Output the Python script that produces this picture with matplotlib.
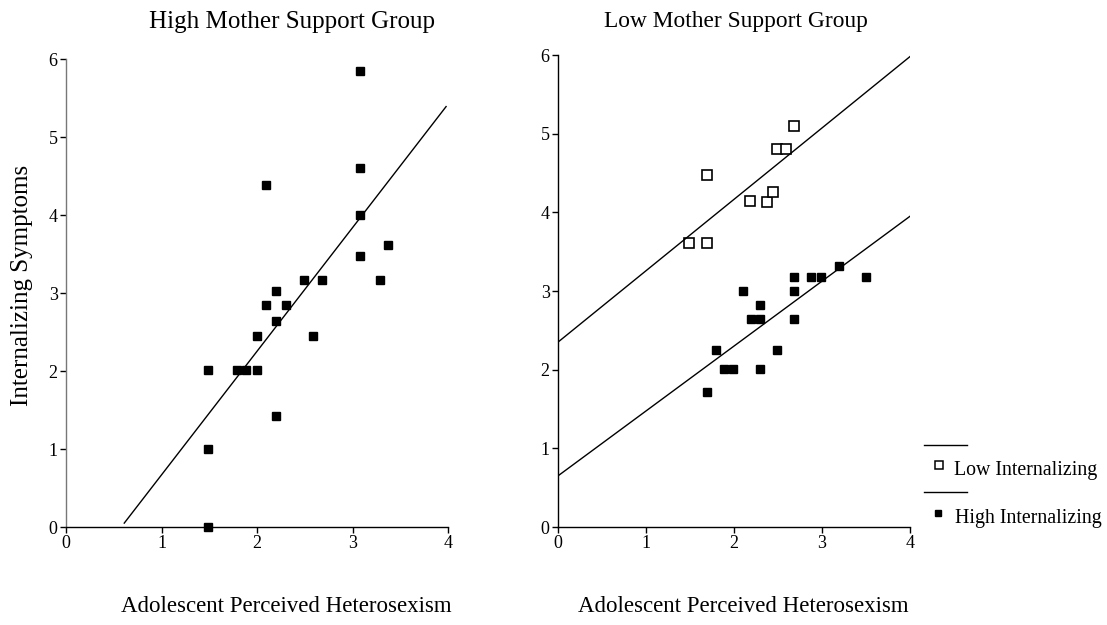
import matplotlib
matplotlib.use("Agg")
import matplotlib.pyplot as plt
from matplotlib.lines import Line2D

plt.rcParams['font.family'] = ['Liberation Serif', 'DejaVu Serif']

# ---- Data: High Mother Support Group ----
high_x = [3.08, 3.08, 3.08, 3.08, 3.37, 3.29, 2.68, 2.49, 2.59, 2.09, 2.20,
          2.09, 2.30, 2.20, 2.00, 2.00, 1.89, 1.79, 1.49, 2.20, 1.49, 1.49]
high_y = [5.84, 4.60, 4.00, 3.47, 3.61, 3.17, 3.17, 3.17, 2.45, 4.38, 3.02,
          2.84, 2.84, 2.64, 2.45, 2.01, 2.01, 2.01, 2.01, 1.42, 1.00, 0.00]
high_line_x = [0.61, 3.98]
high_line_y = [0.05, 5.39]

# ---- Data: Low Mother Support Group ----
low_int_x = [1.49, 1.69, 1.69, 2.18, 2.37, 2.44, 2.49, 2.59, 2.68]
low_int_y = [3.61, 3.61, 4.47, 4.14, 4.13, 4.26, 4.80, 4.80, 5.10]
high_int_x = [1.69, 1.80, 1.89, 1.99, 2.10, 2.19, 2.30, 2.30, 2.30, 2.49,
              2.68, 2.68, 2.68, 2.88, 2.99, 3.19, 3.50]
high_int_y = [1.72, 2.25, 2.01, 2.01, 3.00, 2.65, 2.65, 2.82, 2.01, 2.25,
              3.18, 3.00, 2.65, 3.18, 3.18, 3.32, 3.18]
low_line_x = [0.0, 4.0]
low_line_y = [2.35, 5.98]
hi_line_x = [0.0, 4.0]
hi_line_y = [0.65, 3.95]

xticks = [0, 1, 2, 3, 4]
yticks = [0, 1, 2, 3, 4, 5, 6]

W, H = 1107, 625
fig = plt.figure(figsize=(W / 100, H / 100), dpi=100)

def ax_at(x0, x1, ytop, ybot):
    return fig.add_axes([x0 / W, (H - ybot) / H, (x1 - x0) / W, (ybot - ytop) / H])

ax1 = ax_at(66, 448, 59, 527)
ax2 = ax_at(558, 910, 55, 527)

for ax in (ax1, ax2):
    ax.set_xlim(0, 4)
    ax.set_ylim(0, 6)
    ax.set_xticks(xticks)
    ax.set_yticks(yticks)
    ax.spines['top'].set_visible(False)
    ax.spines['right'].set_visible(False)
    for s in ('left', 'bottom'):
        ax.spines[s].set_linewidth(1.0)
        ax.spines[s].set_color('black')
    ax.tick_params(direction='out', length=4, width=1, labelsize=13, pad=2,
                   colors='black')
    ax.set_facecolor('white')

ax1.spines['left'].set_color('#777777')

ax1.plot(high_x, high_y, linestyle='none', marker='s', markersize=6,
         color='black', clip_on=False)
ax1.plot(high_line_x, high_line_y, color='black', linewidth=1.0)

ax2.plot(low_int_x, low_int_y, linestyle='none', marker='s', markersize=7,
         markerfacecolor='white', markeredgecolor='black', markeredgewidth=1.2,
         clip_on=False)
ax2.plot(high_int_x, high_int_y, linestyle='none', marker='s', markersize=6,
         color='black', clip_on=False)
ax2.plot(low_line_x, low_line_y, color='black', linewidth=1.0)
ax2.plot(hi_line_x, hi_line_y, color='black', linewidth=1.0)

# Titles and labels
fig.text(292 / W, 1 - 22 / H, 'High Mother Support Group', ha='center', va='center', fontsize=18)
fig.text(736 / W, 1 - 22 / H, 'Low Mother Support Group', ha='center', va='center', fontsize=16.8)
fig.text(286 / W, 1 - 607 / H, 'Adolescent Perceived Heterosexism', ha='center', va='center', fontsize=16.5)
fig.text(743 / W, 1 - 607 / H, 'Adolescent Perceived Heterosexism', ha='center', va='center', fontsize=16.5)
fig.text(22 / W, 1 - 285 / H, 'Internalizing Symptoms', ha='center', va='center',
         rotation=90, fontsize=18)

# Legend (manual)
fig.add_artist(Line2D([924 / W, 967 / W], [1 - 445 / H, 1 - 445 / H], color='black', linewidth=1.0))
fig.add_artist(Line2D([924 / W, 967 / W], [1 - 492 / H, 1 - 492 / H], color='black', linewidth=1.0))
fig.add_artist(Line2D([939 / W], [1 - 465 / H], marker='s', markersize=6,
                      markerfacecolor='white', markeredgecolor='black', markeredgewidth=1.1))
fig.add_artist(Line2D([938 / W], [1 - 513 / H], marker='s', markersize=5, color='black'))
fig.text(954 / W, 1 - 471 / H, 'Low Internalizing', ha='left', va='center', fontsize=14.3)
fig.text(955 / W, 1 - 519 / H, 'High Internalizing', ha='left', va='center', fontsize=14.3)

fig.savefig('out.png', dpi=100, facecolor='white')
